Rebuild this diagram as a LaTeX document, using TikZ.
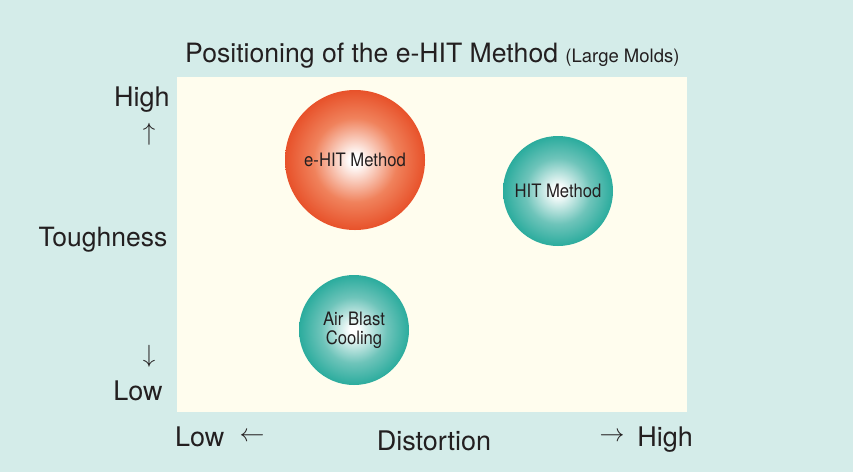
\documentclass[tikz,border=0pt]{standalone}
\usepackage{fontspec}
\setmainfont{TeX Gyre Heros}
\usepackage{xcolor}
\usepackage{tikz}
\usetikzlibrary{positioning}
\definecolor{bgteal}{HTML}{D4ECE9}
\definecolor{panel}{HTML}{FFFDEE}
\definecolor{inktext}{HTML}{231F20}
\definecolor{ehitred}{RGB}{228,62,22}
\definecolor{ehitmid}{RGB}{240,130,92}
\definecolor{hitteal}{RGB}{16,162,146}
\definecolor{hitmid}{RGB}{110,196,186}
\pgfdeclareradialshading{redball}{\pgfpoint{0bp}{0bp}}{color(0bp)=(white); color(2bp)=(white); color(15bp)=(ehitmid); color(29bp)=(ehitred); color(50bp)=(ehitred)}
\pgfdeclareradialshading{tealball}{\pgfpoint{0bp}{0bp}}{color(0bp)=(white); color(2bp)=(white); color(15bp)=(hitmid); color(29bp)=(hitteal); color(50bp)=(hitteal)}
\newcommand{\bigfont}{\fontsize{27}{30}\selectfont}
\newcommand{\ballfont}{\fontsize{18.5}{20}\selectfont}

\begin{document}
\begin{tikzpicture}[x=1pt, y=-1pt, text=inktext,
    axislabel/.style={font=\bigfont, inner sep=0pt},
    arrowsign/.style={font=\fontsize{31}{31}\selectfont, inner sep=0pt},
    ball/.style={circle, inner sep=0pt, align=center, font=\ballfont},
    redbubble/.style={ball, shading=redball, minimum size=140pt},
    tealbubble/.style={ball, shading=tealball, minimum size=110pt}]
    % Background and chart area
    \fill[bgteal] (0,0) rectangle (853,472);
    \fill[panel] (177,77) rectangle (687,412);
    \useasboundingbox (0,0) rectangle (853,472);

    % Title
    \node[anchor=base west, inner sep=0pt] (title) at (185,62)
        {\fontsize{26.6}{30}\selectfont Positioning of the e-HIT Method {\fontsize{18.5}{20}\selectfont (Large Molds)}};

    % Vertical axis
    \node[axislabel, anchor=base] (thigh) at (142,106) {High};
    \node[arrowsign] (tup) at (149,134) {$\uparrow$};
    \node[axislabel, anchor=base, font=\fontsize{26.5}{30}\selectfont] (tough) at (103,246) {Toughness};
    \node[arrowsign] (tdown) at (149,356) {$\downarrow$};
    \node[axislabel, anchor=base] (tlow) at (138,400) {Low};

    % Horizontal axis
    \node[axislabel, anchor=base west] (dlow) at (175,446) {Low};
    \node[arrowsign] (dlarrow) at (252,437) {$\leftarrow$};
    \node[axislabel, anchor=base] (dist) at (434,450) {Distortion};
    \node[arrowsign] (dharrow) at (612,437) {$\rightarrow$};
    \node[axislabel, anchor=base east] (dhigh) at (693,446) {High};

    % Methods
    \node[redbubble] (ehit) at (355,160) {\scalebox{0.9}[1]{e-HIT Method}};
    \node[tealbubble] (hit) at (558,191) {\scalebox{0.9}[1]{HIT Method}};
    \node[tealbubble] (air) at (354,330) {\scalebox{0.9}[1]{Air Blast}\\[-1pt]\scalebox{0.9}[1]{Cooling}};
\end{tikzpicture}
\end{document}
